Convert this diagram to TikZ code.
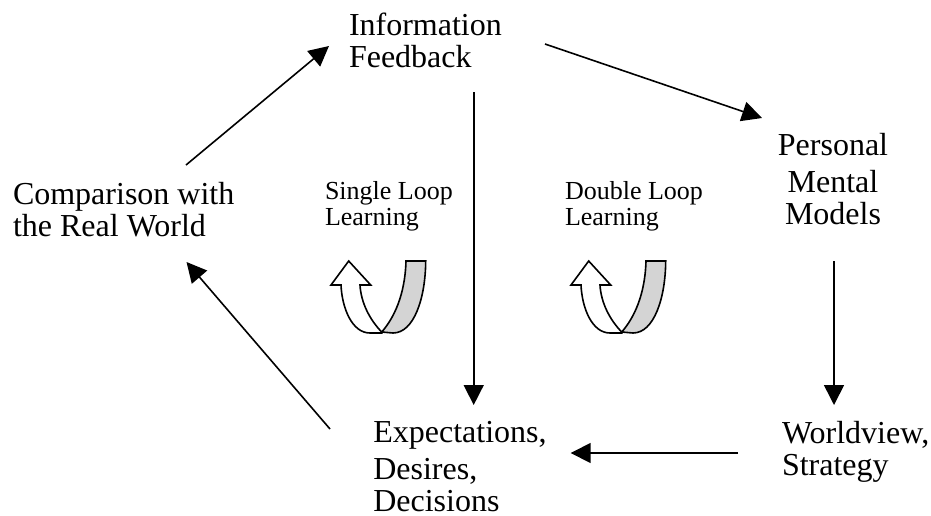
\documentclass[tikz,border=0pt]{standalone}
\usepackage{fontspec}
\setmainfont{Liberation Serif}
\usetikzlibrary{arrows.meta}
\tikzset{
  x=1pt,y=-1pt,
  bigleft/.style={inner sep=0pt,outer sep=0pt,anchor=base west,align=left,font=\fontsize{32}{31.5}\selectfont},
  bigcentre/.style={inner sep=0pt,outer sep=0pt,anchor=base,align=center,font=\fontsize{32}{31.5}\selectfont},
  smalltext/.style={inner sep=0pt,outer sep=0pt,anchor=base west,align=left,font=\fontsize{26}{26}\selectfont},
  conn/.style={line width=1.6pt,-{Triangle[length=20pt,width=20pt]}},
  loopline/.style={line width=1.6pt,line join=miter,draw=black},
  ribbon/.style={loopline,fill=black!17},
  uparrow/.style={loopline,fill=white},
}
\newcommand{\uloop}[1]{%
  \begin{scope}[xshift=#1]
    \draw[ribbon] (381.7,332) .. controls (394,318) and (405,295) .. (406,261)
       -- (425.7,261) .. controls (425.5,298) and (414,333) .. (393,333) -- cycle;
    \draw[uparrow] (348.7,261) -- (370.7,285) -- (360,285)
       .. controls (361,303) and (370,320) .. (381.7,332) -- (381.7,333) -- (370,333)
       .. controls (352,333) and (342,308) .. (341,285) -- (331,285) -- cycle;
  \end{scope}}
\begin{document}
\begin{tikzpicture}
\useasboundingbox (0,0) rectangle (931,515);
\node[bigleft] (info) at (349,67) {Information\\Feedback};
\node[bigcentre] (pers) at (833,224) {Personal\\[5.5pt]Mental\\Models};
\node[bigleft] (world) at (782,475) {Worldview,\\Strategy};
\node[bigleft] (expect) at (373.3,511) {Expectations,\\[5.5pt]Desires,\\Decisions};
\node[bigleft] (comp) at (13,236) {Comparison with\\the Real World};
\node[smalltext] (single) at (325,225) {Single Loop\\Learning};
\node[smalltext] (double) at (565,225) {Double Loop\\Learning};
\draw[conn] ([shift={(173,-71)}]comp.base west) -- ([shift={(-20,-21)}]info.base west);
\draw[conn] ([shift={(196,-23)}]info.base west) -- ([shift={(-71,-106)}]pers.base);
\draw[conn] ([shift={(124.7,25)}]info.base west) -- ([shift={(100.4,-106)}]expect.base west);
\draw[conn] ([shift={(1,37)}]pers.base) -- ([shift={(52,-70)}]world.base west);
\draw[conn] ([shift={(-44,-22)}]world.base west) -- ([shift={(197.4,-58)}]expect.base west);
\draw[conn] ([shift={(-43.3,-82)}]expect.base west) -- ([shift={(173.5,26)}]comp.base west);
\uloop{0pt}
\uloop{240pt}
\end{tikzpicture}
\end{document}
